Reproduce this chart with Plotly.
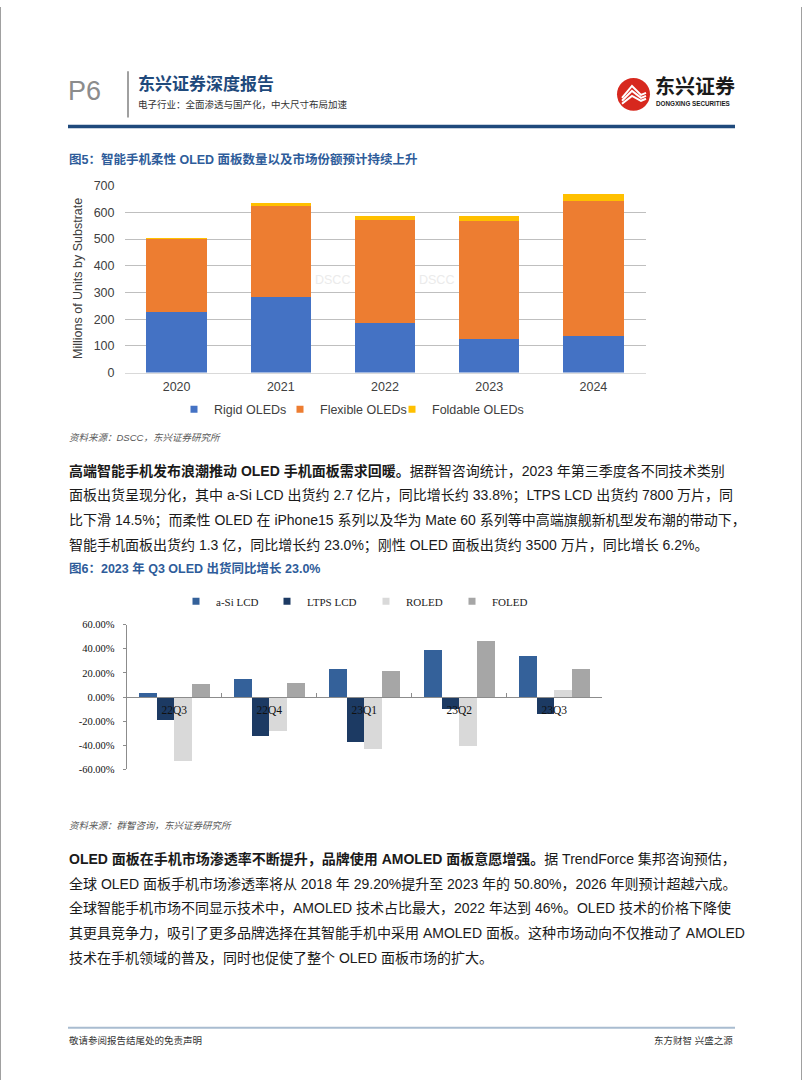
import plotly.graph_objects as go

W, H = 802, 1087

# ---------------- Figure 5 data ----------------
years = ["2020", "2021", "2022", "2023", "2024"]
rigid_oleds = [225, 282, 186, 124, 137]
flexible_oleds = [275, 342, 387, 442, 505]
foldable_oleds = [3, 11, 12, 19, 26]
fig5_series = ["Rigid OLEDs", "Flexible OLEDs", "Foldable OLEDs"]
fig5_yticks = [0, 100, 200, 300, 400, 500, 600, 700]

# ---------------- Figure 6 data ----------------
quarters = ["22Q3", "22Q4", "23Q1", "23Q2", "23Q3"]
asi_lcd = [3.0, 14.8, 23.0, 39.0, 33.8]
ltps_lcd = [-19.4, -32.5, -37.1, -10.2, -14.5]
roled = [-53.3, -28.4, -43.4, -40.4, 6.2]
foled = [10.4, 11.2, 21.3, 46.2, 23.0]
fig6_series = ["a-Si LCD", "LTPS LCD", "ROLED", "FOLED"]
fig6_yticks = [-60, -40, -20, 0, 20, 40, 60]
fig6_yticktext = ["-60.00%", "-40.00%", "-20.00%", "0.00%", "20.00%", "40.00%", "60.00%"]

# ---------------- text ----------------
para1 = [
    "<b>高端智能手机发布浪潮推动 OLED 手机面板需求回暖。</b>据群智咨询统计，2023 年第三季度各不同技术类别",
    "面板出货呈现分化，其中 a-Si LCD 出货约 2.7 亿片，同比增长约 33.8%；LTPS LCD 出货约 7800 万片，同",
    "比下滑 14.5%；而柔性 OLED 在 iPhone15 系列以及华为 Mate 60 系列等中高端旗舰新机型发布潮的带动下，",
    "智能手机面板出货约 1.3 亿，同比增长约 23.0%；刚性 OLED 面板出货约 3500 万片，同比增长 6.2%。",
]
para2 = [
    "<b>OLED 面板在手机市场渗透率不断提升，品牌使用 AMOLED 面板意愿增强。</b>据 TrendForce 集邦咨询预估，",
    "全球 OLED 面板手机市场渗透率将从 2018 年 29.20%提升至 2023 年的 50.80%，2026 年则预计超越六成。",
    "全球智能手机市场不同显示技术中，AMOLED 技术占比最大，2022 年达到 46%。OLED 技术的价格下降使",
    "其更具竞争力，吸引了更多品牌选择在其智能手机中采用 AMOLED 面板。这种市场动向不仅推动了 AMOLED",
    "技术在手机领域的普及，同时也促使了整个 OLED 面板市场的扩大。",
]

SANS = "Liberation Sans, Arial, Noto Sans CJK SC, sans-serif"
CJK = "Liberation Sans, Noto Sans CJK SC, sans-serif"
SERIF = "Liberation Serif, Times New Roman, Noto Sans CJK SC, serif"


def px(x):
    return x / W


def py(y):
    return 1 - y / H


fig = go.Figure()

# ---- Figure 5: stacked bars ----
fig5_colors = ["#4472C4", "#ED7D31", "#FFC000"]
fig5_data = [rigid_oleds, flexible_oleds, foldable_oleds]
for i, (name, vals) in enumerate(zip(fig5_series, fig5_data)):
    fig.add_trace(go.Bar(
        x=years, y=vals, name=name, marker=dict(color=fig5_colors[i], line=dict(width=0)),
        xaxis="x", yaxis="y", showlegend=False, hoverinfo="skip",
    ))

# ---- Figure 6: grouped bars (explicit offsets, base 0) ----
fig6_colors = ["#34619A", "#1C3A63", "#D9D9D9", "#A6A6A6"]
fig6_data = [asi_lcd, ltps_lcd, roled, foled]
BW = 0.186
for i, (name, vals) in enumerate(zip(fig6_series, fig6_data)):
    fig.add_trace(go.Bar(
        x=quarters, y=vals, base=0, width=BW, offset=(i - 2) * BW, name=name,
        marker=dict(color=fig6_colors[i], line=dict(width=0)),
        xaxis="x2", yaxis="y2", showlegend=False, hoverinfo="skip",
    ))

# legend entries (small square keys, one legend per entry for exact placement)
leg5_text_x = [214, 320, 432]
leg6_text_x = [216, 307, 406, 492]
legends = {}
for i, name in enumerate(fig5_series):
    key = "legend" if i == 0 else f"legend{i + 1}"
    fig.add_trace(go.Scatter(
        x=[None], y=[None], mode="markers", name=name,
        marker=dict(symbol="square", size=7, color=fig5_colors[i]),
        xaxis="x", yaxis="y", legend=key, showlegend=True, hoverinfo="skip",
    ))
    legends[key] = dict(
        x=px(leg5_text_x[i] - 40), y=py(408), xanchor="left", yanchor="middle", orientation="h",
        bgcolor="rgba(0,0,0,0)", borderwidth=0, itemwidth=30,
        font=dict(family=SANS, size=12.5, color="#404040"),
    )
for i, name in enumerate(fig6_series):
    key = f"legend{i + 4}"
    fig.add_trace(go.Scatter(
        x=[None], y=[None], mode="markers", name=name,
        marker=dict(symbol="square", size=7, color=fig6_colors[i]),
        xaxis="x2", yaxis="y2", legend=key, showlegend=True, hoverinfo="skip",
    ))
    legends[key] = dict(
        x=px(leg6_text_x[i] - 40), y=py(602), xanchor="left", yanchor="middle", orientation="h",
        bgcolor="rgba(0,0,0,0)", borderwidth=0, itemwidth=30,
        font=dict(family=SERIF, size=11, color="#222222"),
    )

fig5_y_top, fig5_y_bot = 181, 370.3
fig6_y_top, fig6_y_bot = 625.7, 772.3

fig.update_layout(
    width=W, height=H,
    margin=dict(l=0, r=0, t=0, b=0),
    paper_bgcolor="white", plot_bgcolor="rgba(0,0,0,0)",
    barmode="stack", bargap=0.42,
    showlegend=True,
    xaxis=dict(
        domain=[px(124.5), px(645.5)], anchor="y", range=[-0.5, 4.5],
        showgrid=False, showline=True, linecolor="#D9D9D9", linewidth=1,
        ticks="", tickfont=dict(family=SANS, size=12.5, color="#404040"),
        ticklabelstandoff=2, fixedrange=True,
    ),
    yaxis=dict(
        domain=[py(fig5_y_bot), py(fig5_y_top)], anchor="x", range=[0, 700],
        tickvals=fig5_yticks, showgrid=True, gridcolor="#BFBFBF", gridwidth=1,
        zeroline=False, showline=False, ticks="",
        tickfont=dict(family=SANS, size=12.5, color="#404040"),
        ticklabelstandoff=9, fixedrange=True,
    ),
    xaxis2=dict(
        domain=[px(126.7), px(601.7)], anchor="free", range=[-0.5, 4.5],
        position=(py(fig6_y_bot) + py(fig6_y_top)) / 2,
        showgrid=False, showline=True, linecolor="#8C8C8C", linewidth=1,
        ticks="inside", ticklen=4, tickcolor="#8C8C8C", tickson="boundaries",
        tickfont=dict(family=SERIF, size=11.5, color="#111111"),
        ticklabelstandoff=2, fixedrange=True,
    ),
    yaxis2=dict(
        domain=[py(fig6_y_bot), py(fig6_y_top)], anchor="x2", range=[-60, 60],
        tickvals=fig6_yticks, ticktext=fig6_yticktext,
        showgrid=False, zeroline=False, showline=True, linecolor="#8C8C8C", linewidth=1,
        ticks="outside", ticklen=3, tickcolor="#8C8C8C",
        tickfont=dict(family=SERIF, size=10.5, color="#111111"),
        ticklabelstandoff=6, fixedrange=True,
    ),
    **legends,
)

ann = []


def text(x, y, s, size, color="#222222", family=CJK, xanchor="left", angle=0):
    ann.append(dict(
        x=px(x), y=py(y), xref="paper", yref="paper", text=s, showarrow=False,
        xanchor=xanchor, yanchor="middle", textangle=angle,
        font=dict(family=family, size=size, color=color),
    ))


# header
text(66, 85, "P6", 27, "#8C8C8C", SANS)
text(136, 78, "<b>东兴证券深度报告</b>", 17, "#1F4A7C")
text(136, 99, "电子行业：全面渗透与国产化，中大尺寸布局加速", 9.5, "#333333")
text(653, 81, "<b>东兴证券</b>", 20, "#1A1A1A")
text(654, 98, "<b>DONGXING SECURITIES</b>", 6.3, "#1A1A1A", SANS)

# figure 5
text(67, 154, "<b>图5：智能手机柔性 OLED 面板数量以及市场份额预计持续上升</b>", 12.5, "#2E5C9A")
text(78, 275.5, "Millions of Units by Substrate", 12.5, "#404040", SANS, xanchor="center", angle=-90)
text(313, 277, "DSCC", 12.5, "#EBEBEB", SANS)
text(417, 277, "DSCC", 12.5, "#EBEBEB", SANS)
text(67, 436, "<i>资料来源：DSCC，东兴证券研究所</i>", 9.5, "#595959")

for k, line in enumerate(para1):
    text(67, 470 + k * 25.3, line, 14, "#1A1A1A")

# figure 6
text(67, 569, "<b>图6：2023 年 Q3 OLED 出货同比增长 23.0%</b>", 12.5, "#2E5C9A")
text(67, 829, "<i>资料来源：群智咨询，东兴证券研究所</i>", 9.5, "#595959")

for k, line in enumerate(para2):
    text(67, 863 + k * 25.1, line, 14, "#1A1A1A")

# footer
text(67, 1047, "敬请参阅报告结尾处的免责声明", 9.5, "#333333")
text(735, 1047, "东方财智 兴盛之源", 9.5, "#333333", xanchor="right")

fig.update_layout(annotations=ann)

P = dict(xref="paper", yref="paper")
shapes = [
    # page edges
    dict(type="line", x0=px(0.5), x1=px(0.5), y0=0, y1=1, line=dict(color="#A0A0A0", width=1), **P),
    dict(type="line", x0=px(801.5), x1=px(801.5), y0=0, y1=1, line=dict(color="#A0A0A0", width=1), **P),
    # header separator
    dict(type="line", x0=px(128), x1=px(128), y0=py(65), y1=py(112), line=dict(color="#808080", width=1.5), **P),
    # blue rule
    dict(type="line", x0=px(68), x1=px(735), y0=py(121), y1=py(121), line=dict(color="#1F4A7C", width=3.5), **P),
    # footer rule
    dict(type="line", x0=px(68), x1=px(735), y0=py(1034), y1=py(1034), line=dict(color="#A9BCD0", width=2), **P),
    # logo circle
    dict(type="circle", x0=px(617), x1=px(650), y0=py(105), y1=py(72),
         fillcolor="#D7281E", line=dict(width=0), **P),
]


def poly(points):
    return "M " + " L ".join(f"{px(a)},{py(b)}" for a, b in points)


for dy in (0, 5, 10):
    shapes.append(dict(type="path",
                       path=poly([(622, 92 + dy * 0.6), (632, 80 + dy), (641, 89 + dy * 0.6), (646, 87 + dy * 0.6)]),
                       line=dict(color="white", width=2), **P))

fig.update_layout(shapes=shapes)

fig.write_html("out.html", config={"displayModeBar": False, "staticPlot": True},
               post_script="document.body.style.margin='0';")
